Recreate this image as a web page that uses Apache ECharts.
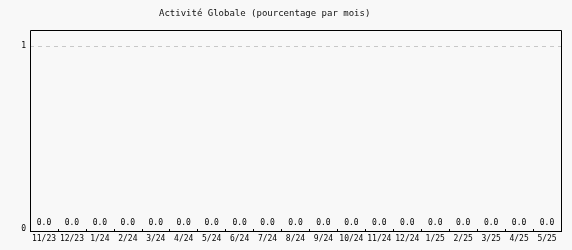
<!DOCTYPE html>
<html>
<head>
<meta charset="utf-8">
<script src="https://cdn.jsdelivr.net/npm/echarts@6/dist/echarts.min.js"></script>
<style>
  html, body { margin: 0; padding: 0; background: #f8f8f8; }
  #chart { width: 572px; height: 250px; }
</style>
</head>
<body>
<div id="chart"></div>
<script>
// Monthly global activity (percent)
const months = ['11/23','12/23','1/24','2/24','3/24','4/24','5/24','6/24','7/24','8/24',
                '9/24','10/24','11/24','12/24','1/25','2/25','3/25','4/25','5/25'];
const activity = [0,0,0,0,0,0,0,0,0,0,0,0,0,0,0,0,0,0,0];
const yTicks = [0, 1];
const titleText = 'Activité Globale (pourcentage par mois)';

const FONT = 'DejaVu Sans Mono';
const chart = echarts.init(document.getElementById('chart'), null, { renderer: 'canvas' });

chart.setOption({
  backgroundColor: '#f8f8f8',
  animation: false,
  title: {
    text: titleText,
    left: 154,
    top: 4,
    textStyle: { fontFamily: FONT, fontSize: 9, fontWeight: 'normal', color: '#111' }
  },
  grid: { left: 30, right: 11, top: 46, bottom: 21 },
  graphic: [{
    type: 'rect',
    shape: { x: 30.5, y: 30.5, width: 531, height: 201 },
    style: { fill: 'none', stroke: '#000', lineWidth: 1 },
    z: 10
  }],
  xAxis: {
    type: 'category',
    data: months,
    offset: 2,
    axisLine: { show: false },
    axisTick: { show: true, alignWithLabel: false, length: 3, lineStyle: { color: '#000' } },
    axisLabel: { fontFamily: FONT, fontSize: 8, color: '#000', margin: 4, interval: 0 }
  },
  yAxis: {
    type: 'value',
    min: yTicks[0],
    max: yTicks[yTicks.length - 1],
    interval: 1,
    axisLine: { show: false },
    axisTick: { show: false },
    splitLine: { show: false },
    axisLabel: { fontFamily: FONT, fontSize: 8, color: '#000', margin: 4 }
  },
  series: [{
    type: 'bar',
    data: activity,
    barWidth: '50%',
    itemStyle: { color: '#4a7ebb' },
    label: {
      show: true,
      position: 'top',
      distance: 2,
      fontFamily: FONT,
      fontSize: 8,
      color: '#000',
      formatter: p => p.value.toFixed(1)
    },
    markLine: {
      silent: true,
      symbol: 'none',
      label: { show: false },
      lineStyle: { color: '#c8c8c8', type: [4, 4], width: 1 },
      data: [{ yAxis: yTicks[1] }]
    }
  }]
});
</script>
</body>
</html>
